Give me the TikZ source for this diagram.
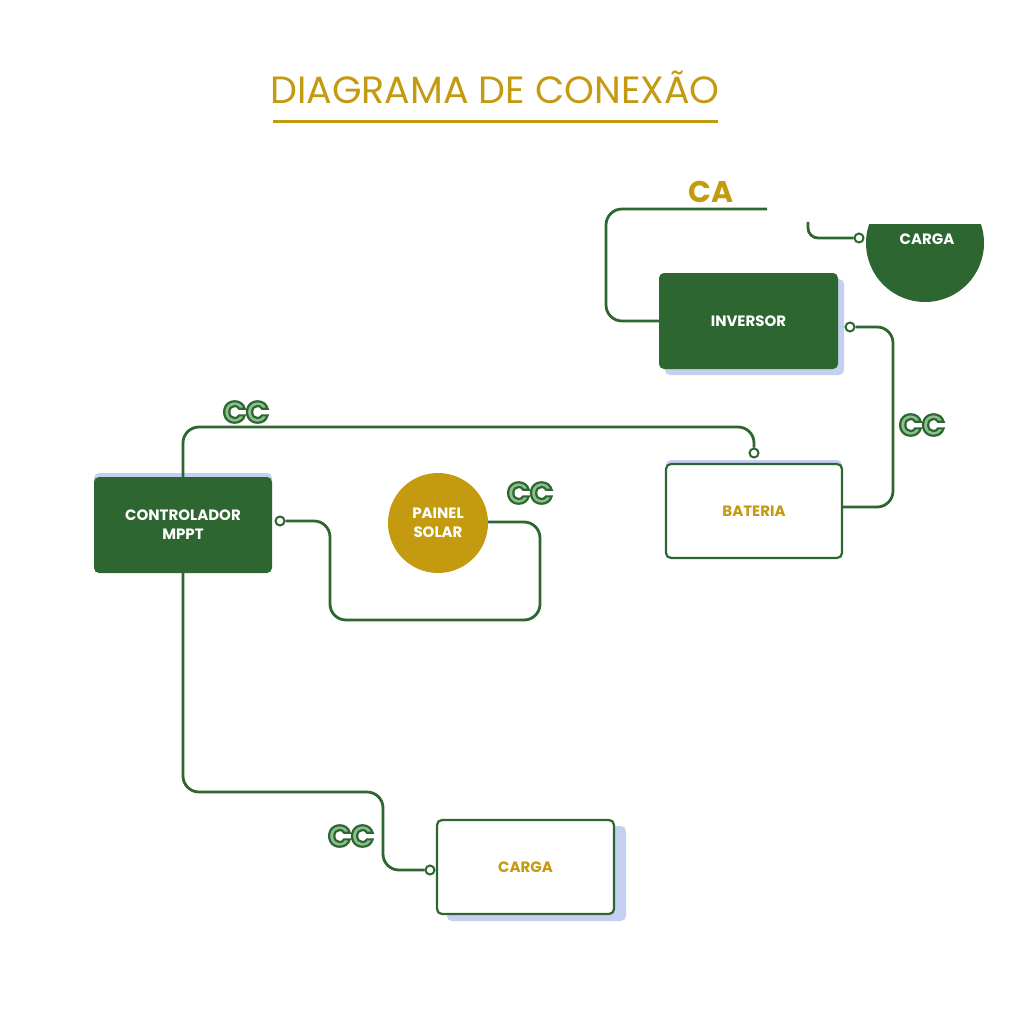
\documentclass[tikz,border=0pt]{standalone}
\usepackage{fontspec}
\setmainfont{Poppins}
\definecolor{dg}{HTML}{2D6630}
\definecolor{lg}{HTML}{8CC08E}
\definecolor{gold}{HTML}{C49A10}
\definecolor{sh}{HTML}{C5CFF0}
\newcommand{\outl}[1]{\special{pdf:code 2 Tr 2.2 w 0.176 0.4 0.188 RG 0.55 0.753 0.557 rg}#1\special{pdf:code 0 Tr 0 g 0 G}}
\begin{document}
\begin{tikzpicture}[x=1pt,y=-1pt,
  wire/.style={draw=dg,line width=2.8pt,rounded corners=16pt},
  term/.style={circle,draw=dg,fill=white,line width=2pt,inner sep=0pt,minimum size=9pt},
  darkbox/.style={fill=dg,rounded corners=5pt,text=white,font=\bfseries\fontsize{15}{19}\selectfont,align=center},
  whitebox/.style={fill=white,draw=dg,line width=2.2pt,rounded corners=5pt,text=gold,font=\bfseries\fontsize{15}{19}\selectfont},
  cc/.style={font=\bfseries\fontsize{30}{30}\selectfont},
  shadow/.style={fill=sh,rounded corners=5pt}]
\useasboundingbox (0,0) rectangle (1024,1024);
% title
\node[text=gold,font=\fontsize{38}{40}\selectfont] (title) at (495,87) {DIAGRAMA DE CONEXÃO};
\draw[gold,line width=3pt] (273,122) -- (718,122);
% shadows
\fill[shadow] (665,279) rectangle (844,375);
\fill[shadow] (666,460) rectangle (842,500);
\fill[shadow] (94,473) rectangle (272,520);
\fill[shadow] (447,826) rectangle (626,921);
% wires
\coordinate (ca1) at (767,209);
\coordinate (ca2) at (808,222);
\draw[wire] (659,321) -- (606,321) -- (606,209) -- (ca1);
\node[term] (t4) at (859,238) {};
\draw[wire,rounded corners=10pt] (ca2) -- (808,238) -- (t4);
\node[term] (t1) at (850,327) {};
\draw[wire] (t1) -- (893,327) -- (893,507) -- (843,507);
\node[term] (t2) at (754,453) {};
\draw[wire] (183,477) -- (183,427) -- (754,427) -- (t2);
\node[term] (t3) at (280,521) {};
\draw[wire] (t3) -- (330,521) -- (330,620) -- (540,620) -- (540,522) -- (488,522);
\node[term] (t5) at (430,870) {};
\draw[wire] (183,573) -- (183,792) -- (383,792) -- (383,870) -- (t5);
% nodes
\node[darkbox,minimum width=179pt,minimum height=96pt] (inv) at (748.5,321) {INVERSOR};
\node[whitebox,minimum width=176pt,minimum height=94pt] (bat) at (754,511) {BATERIA};
\node[darkbox,minimum width=178pt,minimum height=96pt] (ctrl) at (183,525) {CONTROLADOR\\MPPT};
\node[circle,fill=gold,minimum size=100pt,text=white,align=center,font=\bfseries\fontsize{15}{19}\selectfont] (pan) at (438,523) {PAINEL\\SOLAR};
\node[whitebox,minimum width=177pt,minimum height=94pt] (carga) at (525.5,867) {CARGA};
\begin{scope}
\clip (860,225) rectangle (990,310);
\fill[dg] (925,243) circle[radius=59pt];
\end{scope}
\node[text=white,font=\bfseries\fontsize{15}{19}\selectfont] (carga2) at (927,239) {CARGA};
% labels
\node[text=gold,font=\bfseries\fontsize{30}{30}\selectfont] (ca) at (711,192) {CA};
\node[cc] (cc1) at (246,412) {\outl{CC}};
\node[cc] (cc2) at (922,425) {\outl{CC}};
\node[cc] (cc3) at (530,493) {\outl{CC}};
\node[cc] (cc4) at (351,836) {\outl{CC}};
\end{tikzpicture}
\end{document}
